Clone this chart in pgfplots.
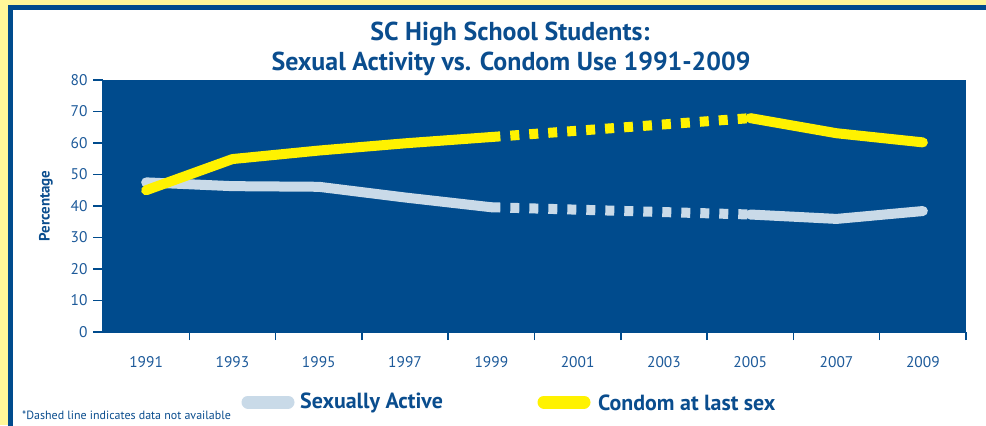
\documentclass[border=0pt]{standalone}
\usepackage{pgfplots}
\pgfplotsset{compat=1.18}
\usepackage{fontspec}
\setmainfont{PT Sans}
\definecolor{bgyellow}{HTML}{FFF799}
\definecolor{frameblue}{HTML}{004B8D}
\definecolor{plotblue}{HTML}{004B8D}
\definecolor{textblue}{HTML}{0A4D8E}
\definecolor{ticktext}{HTML}{1D5A9A}
\definecolor{linegrey}{HTML}{C9DAE8}
\definecolor{lineyellow}{HTML}{FFF200}
\pgfplotstableread{
year val
1991 47.5
1993 46.3
1995 46.1
1997 42.7
1999 39.6
}\greyA
\pgfplotstableread{
year val
1999 39.6
2005 37.3
}\greyB
\pgfplotstableread{
year val
2005 37.3
2007 35.9
2009 38.4
}\greyC
\pgfplotstableread{
year val
1991 45.0
1993 54.9
1995 57.6
1997 59.9
1999 61.9
}\yelA
\pgfplotstableread{
year val
1999 61.9
2005 67.9
}\yelB
\pgfplotstableread{
year val
2005 67.9
2007 63.1
2009 60.2
}\yelC
\begin{document}
\begin{tikzpicture}[x=1bp,y=1bp]
\useasboundingbox (0,0) rectangle (986,425);
\fill[bgyellow] (0,0) rectangle (986,425);
\fill[white] (10.5,-5) rectangle (995,417.5);
\draw[frameblue,line width=5bp] (10.5,-5) -- (10.5,417.5) -- (995,417.5);
\begin{axis}[
  at={(103bp,93bp)}, anchor=south west,
  scale only axis, width=863bp, height=252bp,
  xmin=1990, xmax=2010, ymin=0, ymax=80,
  axis background/.style={fill=plotblue},
  axis line style={draw=plotblue, line width=1.2bp},
  axis x line*=bottom, axis y line*=left,
  xtick={1991,1993,...,2009},
  minor xtick={1992,1994,...,2010},
  ytick={0,10,...,80},
  tick align=outside,
  tick style={draw=plotblue, line width=1.5bp},
  major tick length=10bp,
  major x tick style={draw=none},
  minor tick length=8bp,
  xticklabel style={yshift=-11bp, font=\fontsize{15.5}{16}\selectfont, text=ticktext},
  yticklabel style={xshift=-2bp, font=\fontsize{15.5}{16}\selectfont, text=ticktext},
  /pgf/number format/assume math mode=true,
  /pgf/number format/1000 sep={},
  clip=false,
]
\addplot[linegrey, line width=10bp, line cap=round, line join=round] table[x=year,y=val] {\greyA};
\addplot[linegrey, line width=10bp, line cap=butt, dash pattern=on 9bp off 10bp] table[x=year,y=val] {\greyB};
\addplot[linegrey, line width=10bp, line cap=round, line join=round] table[x=year,y=val] {\greyC};
\addplot[lineyellow, line width=10bp, line cap=round, line join=round] table[x=year,y=val] {\yelA};
\addplot[lineyellow, line width=10bp, line cap=butt, dash pattern=on 9bp off 10bp] table[x=year,y=val] {\yelB};
\addplot[lineyellow, line width=10bp, line cap=round, line join=round] table[x=year,y=val] {\yelC};
\end{axis}
\node[text=textblue, font=\bfseries\fontsize{26}{28}\selectfont] at (510,391) {SC High School Students:};
\node[text=textblue, font=\bfseries\fontsize{26}{28}\selectfont] at (511,361) {Sexual Activity vs. Condom Use 1991-2009};
\node[text=textblue, font=\bfseries\fontsize{15}{17}\selectfont, rotate=90] at (46,219) {Percentage};
\draw[linegrey, line width=13bp, line cap=round] (248,23) -- (288,23);
\node[anchor=west, inner sep=0pt, text=textblue, font=\bfseries\fontsize{22}{24}\selectfont] at (300,22) {Sexually Active};
\draw[lineyellow, line width=13bp, line cap=round] (544,23) -- (584,23);
\node[anchor=west, inner sep=0pt, text=textblue, font=\bfseries\fontsize{22}{24}\selectfont] at (598,22) {Condom at last sex};
\node[anchor=west, inner sep=0pt, text=textblue, font=\fontsize{12}{14}\selectfont] at (22,10) {*Dashed line indicates data not available};
\end{tikzpicture}
\end{document}
